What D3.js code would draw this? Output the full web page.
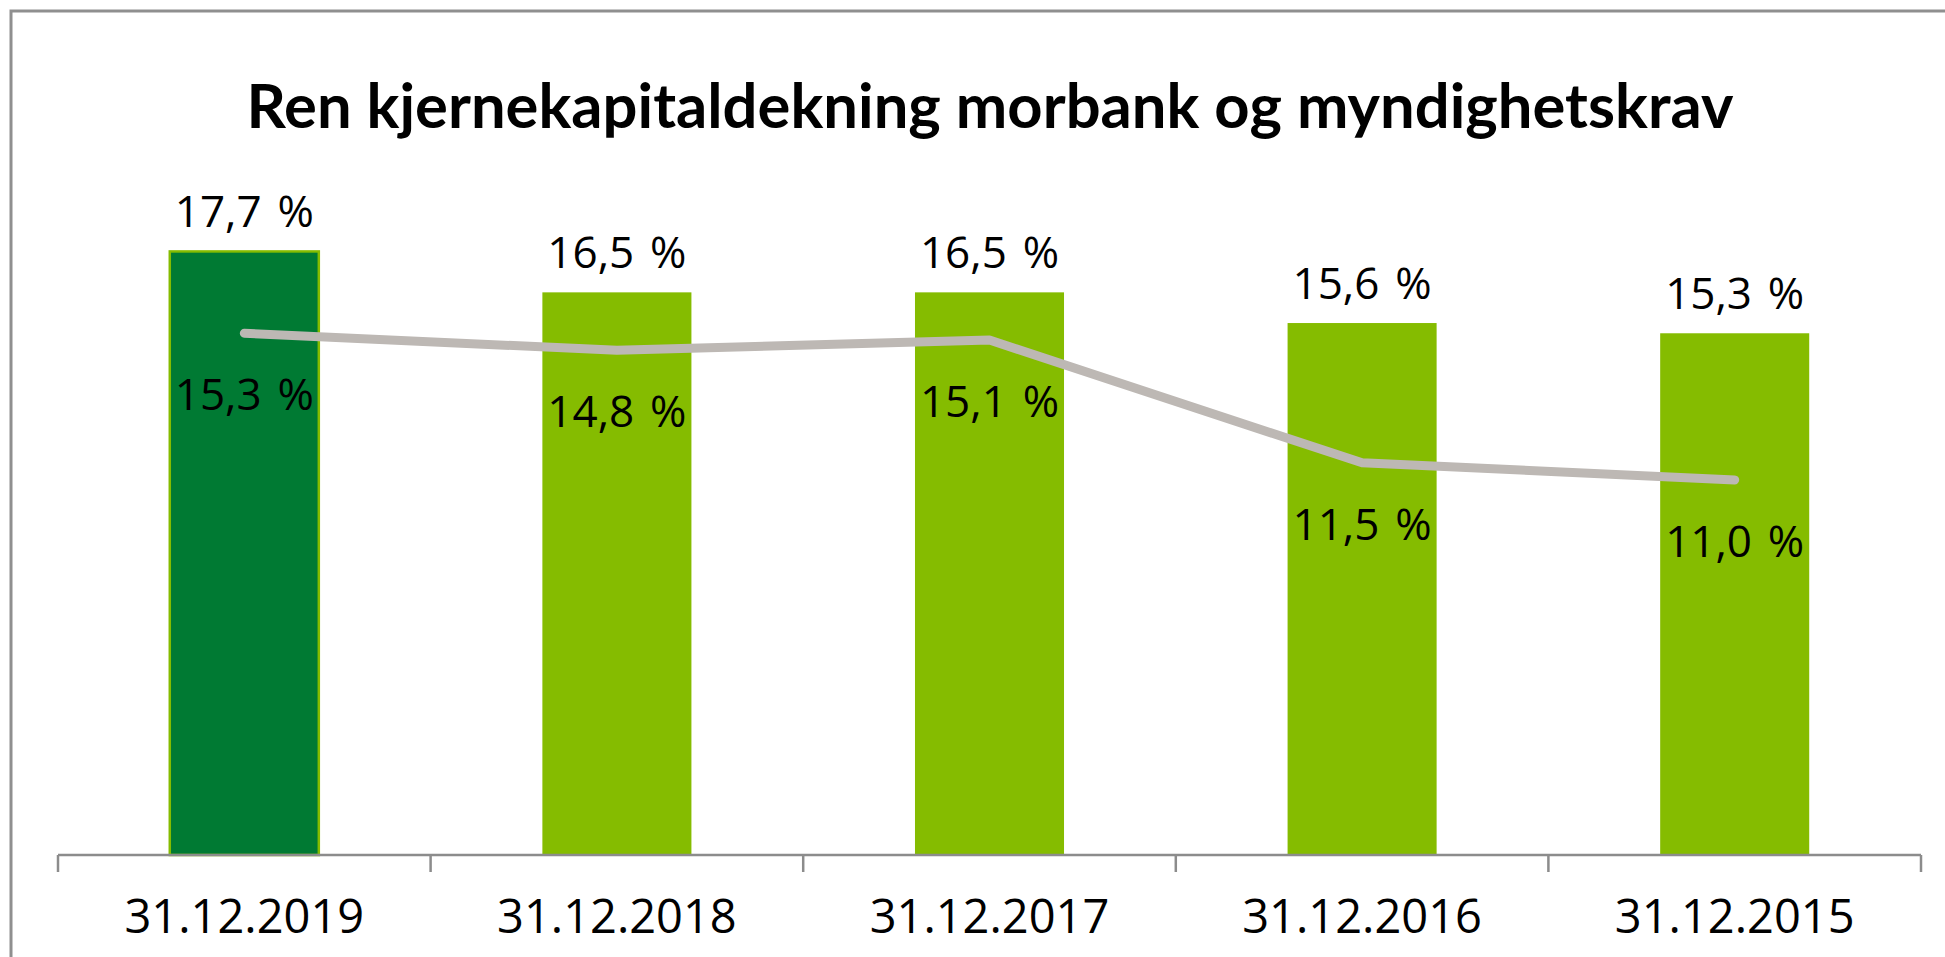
<!DOCTYPE html>
<html>
<head>
<meta charset="utf-8">
<script src="https://cdn.jsdelivr.net/npm/d3@7"></script>
<style>
  body { margin: 0; background: #fff; }
  svg { display: block; }
</style>
</head>
<body>
<div id="chart"></div>
<script>
// chart data
const categories = ["31.12.2019", "31.12.2018", "31.12.2017", "31.12.2016", "31.12.2015"];
const kapital = [17.7, 16.5, 16.5, 15.6, 15.3];   // ren kjernekapitaldekning (bars)
const krav = [15.3, 14.8, 15.1, 11.5, 11.0];      // myndighetskrav (line)
const title = "Ren kjernekapitaldekning morbank og myndighetskrav";

const W = 1945, H = 957;
// wider gap before % like the original
const fmt = v => v.toFixed(1).replace(".", ",") + " \u200a%";

const svg = d3.select("#chart")
    .append("svg")
    .attr("width", W)
    .attr("height", H);

// frame (right/bottom edge fall outside the picture)
svg.append("rect")
    .attr("x", 11)
    .attr("y", 11)
    .attr("width", W + 20)
    .attr("height", H + 20)
    .attr("fill", "none")
    .attr("stroke", "#8f8f8f")
    .attr("stroke-width", 3);

// title
svg.append("text")
    .attr("x", 990)
    .attr("y", 128)
    .attr("text-anchor", "middle")
    .attr("textLength", 1487)
    .attr("lengthAdjust", "spacingAndGlyphs")
    .style("font-family", "Lato, 'Open Sans', sans-serif")
    .style("font-weight", "bold")
    .style("font-size", "62px")
    .attr("fill", "#000")
    .text(title);

// scales
var x = d3.scaleBand()
    .domain(categories)
    .range([58, 1921])
    .padding(0);

var y = d3.scaleLinear()
    .domain([0, 20])
    .range([855, 173]);

const barW = x.bandwidth() * 0.4;
const cx = d => x(d) + x.bandwidth() / 2;

// bars
svg.append("g")
    .selectAll("rect")
    .data(categories)
    .enter()
    .append("rect")
    .attr("x", d => cx(d) - barW / 2)
    .attr("y", (d, i) => y(kapital[i]))
    .attr("width", barW)
    .attr("height", (d, i) => y(0) - y(kapital[i]))
    .attr("fill", (d, i) => i === 0 ? "#007a33" : "#85bc00")
    .attr("stroke", (d, i) => i === 0 ? "#85bc00" : "none")
    .attr("stroke-width", 2.5);

// x axis (ticks between categories)
const axis = svg.append("g");
axis.append("line")
    .attr("x1", x.range()[0])
    .attr("x2", x.range()[1])
    .attr("y1", y(0))
    .attr("y2", y(0))
    .attr("stroke", "#8c8c8c")
    .attr("stroke-width", 2.5);

const bounds = categories.map(d => x(d)).concat([x.range()[1]]);
axis.selectAll(".tick")
    .data(bounds)
    .enter()
    .append("line")
    .attr("x1", d => d)
    .attr("x2", d => d)
    .attr("y1", y(0))
    .attr("y2", y(0) + 17)
    .attr("stroke", "#8c8c8c")
    .attr("stroke-width", 2.5);

axis.selectAll(".lbl")
    .data(categories)
    .enter()
    .append("text")
    .attr("x", d => cx(d))
    .attr("y", 933)
    .attr("text-anchor", "middle")
    .style("font-family", "'Open Sans', sans-serif")
    .style("font-size", "47px")
    .attr("fill", "#000")
    .text(d => d);

// line
const line = d3.line()
    .x((d, i) => cx(categories[i]))
    .y(d => y(d));

svg.append("path")
    .datum(krav)
    .attr("d", line)
    .attr("fill", "none")
    .attr("stroke", "#bdb8b4")
    .attr("stroke-width", 9)
    .attr("stroke-linecap", "round")
    .attr("stroke-linejoin", "round");

// bar labels
svg.append("g")
    .selectAll("text")
    .data(kapital)
    .enter()
    .append("text")
    .attr("x", (d, i) => cx(categories[i]))
    .attr("y", d => y(d) - 24)
    .attr("text-anchor", "middle")
    .style("font-family", "'Open Sans', sans-serif")
    .style("font-size", "44px")
    .attr("fill", "#000")
    .text(d => fmt(d));

// line labels
svg.append("g")
    .selectAll("text")
    .data(krav)
    .enter()
    .append("text")
    .attr("x", (d, i) => cx(categories[i]))
    .attr("y", d => y(d) + 77)
    .attr("text-anchor", "middle")
    .style("font-family", "'Open Sans', sans-serif")
    .style("font-size", "44px")
    .attr("fill", "#000")
    .text(d => fmt(d));
</script>
</body>
</html>
